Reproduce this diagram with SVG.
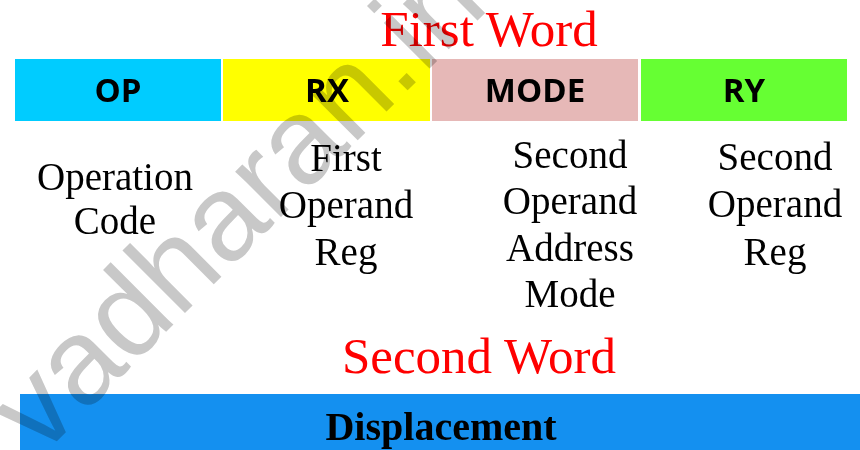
<svg xmlns="http://www.w3.org/2000/svg" width="860" height="450" viewBox="0 0 860 450">
  <style>
    .title { font-family: "Liberation Serif", "Times New Roman", serif; font-size: 51px; fill: #ff0000; text-anchor: middle; }
    .field { font-family: "Open Sans", "Liberation Sans", sans-serif; font-weight: bold; font-size: 33px; fill: #000000; text-anchor: middle; }
    .desc { font-family: "Liberation Serif", "Times New Roman", serif; font-size: 39px; fill: #000000; text-anchor: middle; }
    .disp { font-family: "Liberation Serif", "Times New Roman", serif; font-weight: bold; font-size: 40px; fill: #000000; text-anchor: middle; }
    .wm { font-family: "Liberation Sans", Arial, sans-serif; font-size: 122px; fill: #c8c8c8; mix-blend-mode: multiply; }
  </style>

  <rect x="0" y="0" width="860" height="450" fill="#ffffff"/>

  <text class="title" x="489" y="46">First Word</text>

  <g id="op">
    <rect x="15" y="59" width="206" height="62" fill="#00ccff"/>
    <text class="field" x="118" y="102">OP</text>
  </g>
  <g id="rx">
    <rect x="223" y="59" width="207" height="62" fill="#ffff00"/>
    <text class="field" x="327" y="102">RX</text>
  </g>
  <g id="mode">
    <rect x="432" y="59" width="206" height="62" fill="#e6b8b7"/>
    <text class="field" x="535" y="102">MODE</text>
  </g>
  <g id="ry">
    <rect x="641" y="59" width="206" height="62" fill="#66ff33"/>
    <text class="field" x="744" y="102">RY</text>
  </g>

  <g id="desc-op">
    <text class="desc" x="115" y="190">Operation</text>
    <text class="desc" x="115" y="234">Code</text>
  </g>
  <g id="desc-rx">
    <text class="desc" x="346" y="171">First</text>
    <text class="desc" x="346" y="218">Operand</text>
    <text class="desc" x="346" y="265">Reg</text>
  </g>
  <g id="desc-mode">
    <text class="desc" x="570" y="168">Second</text>
    <text class="desc" x="570" y="214">Operand</text>
    <text class="desc" x="570" y="261">Address</text>
    <text class="desc" x="570" y="307">Mode</text>
  </g>
  <g id="desc-ry">
    <text class="desc" x="775" y="170">Second</text>
    <text class="desc" x="775" y="217">Operand</text>
    <text class="desc" x="775" y="265">Reg</text>
  </g>

  <text class="title" x="479" y="373">Second Word</text>

  <g id="displacement">
    <rect x="20" y="394" width="840" height="56" fill="#1490f0"/>
    <text class="disp" x="441" y="440">Displacement</text>
  </g>

  <g id="connectors"></g>

  <text class="wm" transform="translate(40,458) rotate(-45)">vadharan.in</text>
</svg>
